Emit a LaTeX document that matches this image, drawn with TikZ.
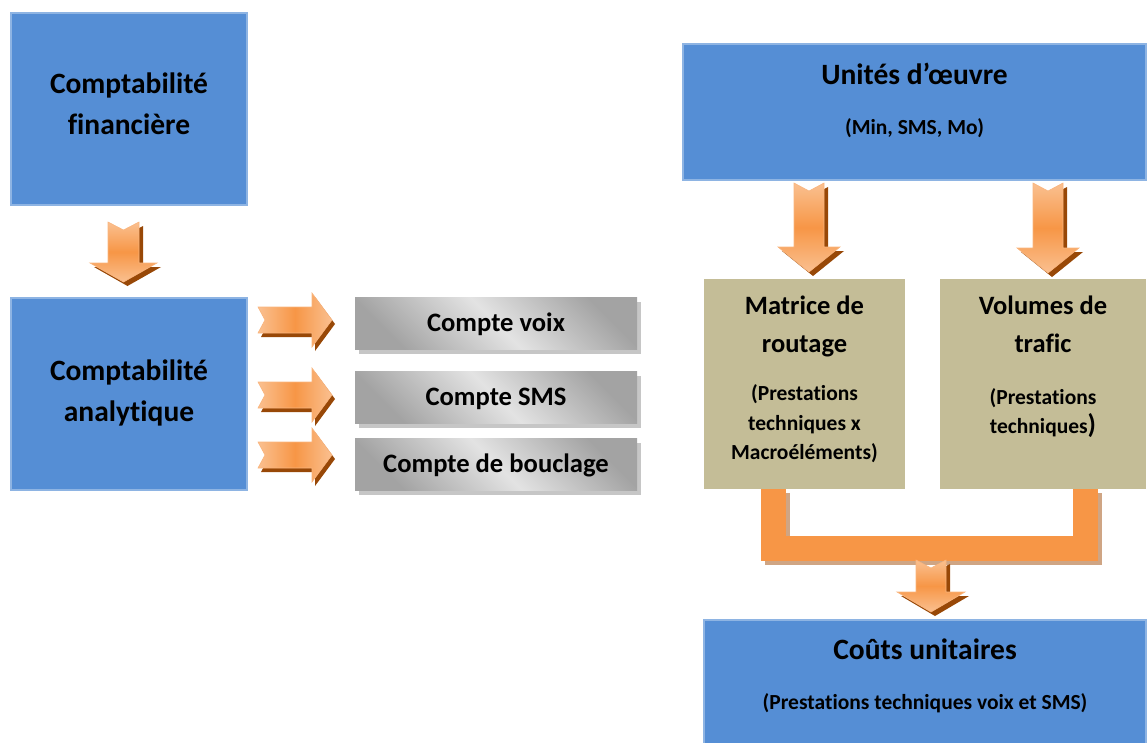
\documentclass[tikz,border=0pt]{standalone}
\usepackage{fontspec}
\setmainfont{Carlito}[Ligatures=NoCommon]
\usetikzlibrary{positioning,calc,shadows}

\definecolor{boxblue}{HTML}{558ED5}
\definecolor{boxblueline}{HTML}{8EB4E3}
\definecolor{boxtan}{HTML}{C4BD97}
\definecolor{ormid}{HTML}{F79646}
\definecolor{orlight}{HTML}{FAC090}
\definecolor{orshadow}{HTML}{984807}
\definecolor{brshadow}{HTML}{CFA584}

\begin{document}
\begin{tikzpicture}[x=1pt, y=-1pt,
    bluebox/.style={draw=boxblueline, line width=1.5pt, fill=boxblue, inner sep=0pt, align=center},
    tanbox/.style={fill=boxtan, inner sep=0pt},
    greybox/.style={inner sep=0pt, minimum width=282pt, minimum height=52pt, text height=17pt, text depth=0pt,
        top color=gray!72, bottom color=gray!72, middle color=gray!22, shading angle=-45,
        drop shadow={shadow xshift=4pt, shadow yshift=-5pt, fill=gray!45, opacity=1},
        font=\bfseries\fontsize{26.6}{30}\selectfont},
    bigtext/.style={font=\bfseries\fontsize{29.5}{41}\selectfont, align=center},
    title/.style={font=\bfseries\fontsize{26.5}{38}\selectfont, align=center, inner sep=0pt},
    sub/.style={font=\bfseries\fontsize{21.5}{29.5}\selectfont, align=center, inner sep=0pt},
    arrowfill/.style={top color=orlight, bottom color=orlight, middle color=ormid, draw=ormid!70!white, line width=0.6pt},
    arrowfillh/.style={left color=orlight, right color=orlight, middle color=ormid, draw=ormid!70!white, line width=0.6pt},
    % block arrow pointing down: length, head length, shaft half width, head half width
    pics/downarrow/.style n args={4}{code={
        \fill[orshadow, shift={(4,4)}] (-#3,0) -- (0,8) -- (#3,0) -- (#3,#1-#2) -- (#4,#1-#2) -- (0,#1) -- (-#4,#1-#2) -- (-#3,#1-#2) -- cycle;
        \path[arrowfill] (-#3,0) -- (0,8) -- (#3,0) -- (#3,#1-#2) -- (#4,#1-#2) -- (0,#1) -- (-#4,#1-#2) -- (-#3,#1-#2) -- cycle;
    }},
    % block arrow pointing right
    pics/rightarrow/.style={code={
        \fill[orshadow, shift={(3,4)}] (0,-13) -- (54,-13) -- (54,-27) -- (74,0) -- (54,27) -- (54,13) -- (0,13) -- (7,0) -- cycle;
        \path[arrowfillh] (0,-13) -- (54,-13) -- (54,-27) -- (74,0) -- (54,27) -- (54,13) -- (0,13) -- (7,0) -- cycle;
    }}
  ]
  \useasboundingbox (0,0) rectangle (1147,742);

  % Left column
  \node[bluebox, minimum width=236pt, minimum height=192pt] (fin) at (129,109) {};
  \node[bigtext, anchor=base] at (129,134) {Comptabilité\\financière};
  \node[bluebox, minimum width=236pt, minimum height=192pt] (ana) at (129,394) {};
  \node[bigtext, anchor=base] at (129,421) {Comptabilité\\analytique};
  \pic at (123.5,222) {downarrow={60}{19}{15.5}{33.5}};

  % Accounts
  \node[greybox] (voix) at (496,323) {Compte voix};
  \node[greybox] (sms) at (496,397) {Compte SMS};
  \node[greybox] (boucl) at (496,464) {Compte de bouclage};
  \foreach \y in {320,395,455}
    \pic at (258,\y) {rightarrow};

  % Right side
  \node[bluebox, minimum width=463pt, minimum height=136pt] (uni) at (914.5,112) {};
  \node[title, font=\bfseries\fontsize{29.5}{38}\selectfont, anchor=base] at ($(uni.north)+(0,41)$) {Unités d’œuvre};
  \node[sub, anchor=base] at ($(uni.north)+(0,91)$) {(Min, SMS, Mo)};

  \node[tanbox, minimum width=201pt, minimum height=210pt] (mat) at (804.5,384) {};
  \node[title, anchor=base] at ($(mat.north)+(0,74)$) {Matrice de\\routage};
  \node[sub, anchor=base] at ($(mat.north)+(0,181)$) {(Prestations\\techniques x\\Macroéléments)};

  \node[tanbox, minimum width=206pt, minimum height=210pt] (vol) at (1043,384) {};
  \node[title, anchor=base] at ($(vol.north)+(0,74)$) {Volumes de\\trafic};
  \node[sub, anchor=base] at ($(vol.north)+(0,155)$) {(Prestations\\techniques{\fontsize{27}{27}\selectfont)}};

  \pic at (809,183) {downarrow={89}{25}{15}{31}};
  \pic at (1048,183) {downarrow={90}{25}{15}{31}};

  % Bracket joining both boxes
  \draw[brshadow, line width=25pt] ([xshift=-27pt, yshift=-4pt]mat.south) -- ++(0,59.5) -| ([xshift=46pt, yshift=-4pt]vol.south);
  \draw[ormid, line width=25pt] ([xshift=-31pt]mat.south) -- ++(0,59.5) -| ([xshift=42pt]vol.south);

  \node[bluebox, minimum width=442pt, minimum height=150pt] (cout) at (925,695) {};
  \node[title, font=\bfseries\fontsize{29.5}{38}\selectfont, anchor=base] at ($(cout.north)+(0,40)$) {Coûts unitaires};
  \node[sub, anchor=base] at ($(cout.north)+(0,90)$) {(Prestations techniques voix et SMS)};
  \pic at (931,560) {downarrow={52}{20}{15}{34}};
\end{tikzpicture}
\end{document}
